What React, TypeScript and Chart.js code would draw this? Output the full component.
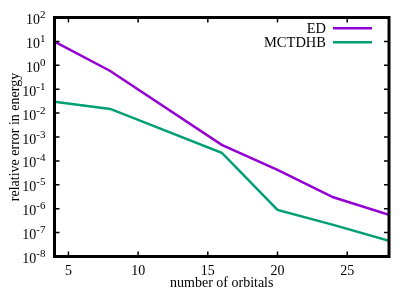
import React, { useEffect, useRef } from "react";
import { Chart, registerables } from "chart.js";

Chart.register(...registerables);

const orbitals = [4, 8, 16, 20, 24, 28];
const edError = [9.7, 0.58, 4.7e-4, 4.2e-5, 3.0e-6, 5.5e-7];
const mctdhbError = [0.03, 0.015, 2.2e-4, 8.9e-7, 2.1e-7, 4.5e-8];
const seriesLabels = ["ED", "MCTDHB"];
const seriesColors = ["#9400d3", "#009e73"];
const xTickValues = [5, 10, 15, 20, 25];
const yExponents = [2, 1, 0, -1, -2, -3, -4, -5, -6, -7, -8];
const xTitle = "number of orbitals";
const yTitle = "relative error in energy";

const FONT = '"Liberation Serif", "Times New Roman", serif';

const framePlugin = {
  id: "gnuplotFrame",
  afterDraw(chart: any) {
    const { ctx, chartArea } = chart;
    const xs = chart.scales.x;
    const ys = chart.scales.y;
    const { left, right, top, bottom } = chartArea;
    ctx.save();
    // ticks (inward, mirrored)
    ctx.strokeStyle = "#000";
    ctx.lineWidth = 1.5;
    const tl = 5;
    ctx.beginPath();
    xTickValues.forEach((v) => {
      const px = xs.getPixelForValue(v);
      ctx.moveTo(px, bottom);
      ctx.lineTo(px, bottom - tl);
      ctx.moveTo(px, top);
      ctx.lineTo(px, top + tl);
    });
    yExponents.forEach((e) => {
      const py = ys.getPixelForValue(Math.pow(10, e));
      ctx.moveTo(left, py);
      ctx.lineTo(left + tl, py);
      ctx.moveTo(right, py);
      ctx.lineTo(right - tl, py);
    });
    ctx.stroke();
    // frame
    ctx.lineWidth = 3;
    ctx.strokeRect(left, top, right - left, bottom - top);

    ctx.fillStyle = "#000";
    // x tick labels
    ctx.font = `14px ${FONT}`;
    ctx.textAlign = "center";
    ctx.textBaseline = "alphabetic";
    xTickValues.forEach((v) => {
      ctx.fillText(String(v), xs.getPixelForValue(v), 275);
    });
    // y tick labels 10^e
    const rightEdge = 45.5;
    yExponents.forEach((e) => {
      const py = ys.getPixelForValue(Math.pow(10, e));
      const expStr = String(e);
      ctx.font = `11px ${FONT}`;
      const ew = ctx.measureText(expStr).width;
      ctx.textAlign = "left";
      ctx.fillText(expStr, rightEdge - ew, py + 0.5);
      ctx.font = `14px ${FONT}`;
      ctx.textAlign = "right";
      ctx.fillText("10", rightEdge - ew, py + 6.5);
    });
    // axis titles
    ctx.font = `14px ${FONT}`;
    ctx.textAlign = "center";
    ctx.fillText(xTitle, (left + right) / 2, 286.5);
    ctx.save();
    ctx.translate(18.5, (top + bottom) / 2);
    ctx.rotate(-Math.PI / 2);
    ctx.fillText(yTitle, 0, 0);
    ctx.restore();
    // legend
    const legendY = [33.3, 47.3];
    chart.data.datasets.forEach((ds: any, i: number) => {
      ctx.font = `14.5px ${FONT}`;
      ctx.textAlign = "right";
      ctx.fillStyle = "#000";
      ctx.fillText(ds.label, 326, legendY[i]);
      ctx.strokeStyle = ds.borderColor;
      ctx.lineWidth = 2.5;
      ctx.beginPath();
      ctx.moveTo(333, legendY[i] - 5);
      ctx.lineTo(372, legendY[i] - 5);
      ctx.stroke();
    });
    ctx.restore();
  },
};

export default function App() {
  const canvasRef = useRef<HTMLCanvasElement | null>(null);

  useEffect(() => {
    const canvas = canvasRef.current;
    if (!canvas) return;
    const seriesValues = [edError, mctdhbError];
    const chart = new Chart(canvas, {
      type: "line",
      data: {
        datasets: seriesLabels.map((label, i) => ({
          label,
          data: orbitals.map((x, j) => ({ x, y: seriesValues[i][j] })),
          borderColor: seriesColors[i],
          backgroundColor: seriesColors[i],
          borderWidth: 2.5,
          pointRadius: 0,
          tension: 0,
          fill: false,
        })),
      },
      options: {
        responsive: false,
        animation: false,
        devicePixelRatio: 1,
        layout: { padding: { left: 0, right: 26, top: 17.5, bottom: 0 } },
        plugins: {
          legend: { display: false },
          tooltip: { enabled: false },
          title: { display: false },
        },
        scales: {
          x: {
            type: "linear",
            min: 4,
            max: 28,
            grid: { display: false },
            border: { display: false },
            ticks: { display: false },
            afterFit: (s: any) => {
              s.height = 34.5;
            },
          },
          y: {
            type: "logarithmic",
            min: 1e-8,
            max: 1e2,
            grid: { display: false },
            border: { display: false },
            ticks: { display: false },
            afterFit: (s: any) => {
              s.width = 54.5;
            },
          },
        },
      } as any,
      plugins: [framePlugin],
    });
    return () => chart.destroy();
  }, []);

  return (
    <div style={{ position: "absolute", left: 0, top: 0, width: 415, height: 291, background: "#fff" }}>
      <canvas ref={canvasRef} width={415} height={291} style={{ display: "block" }} />
    </div>
  );
}
